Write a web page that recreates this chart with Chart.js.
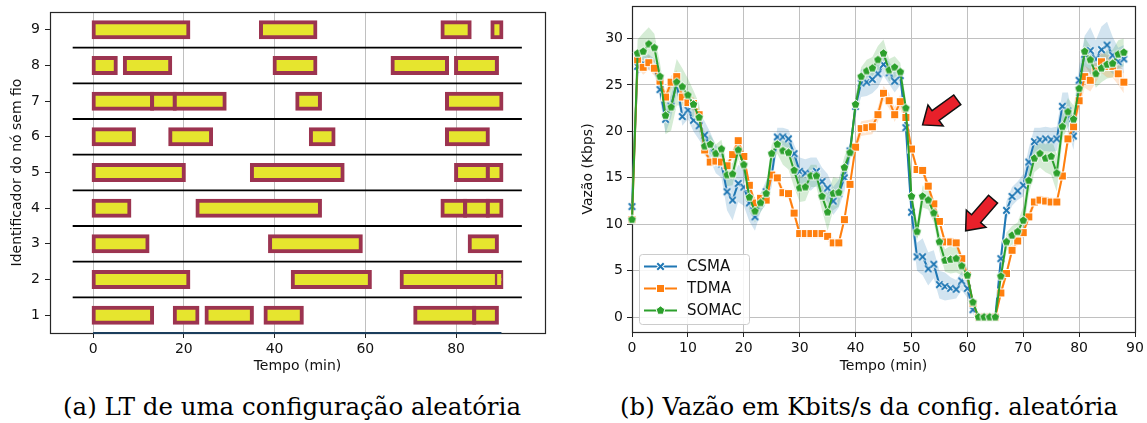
<!DOCTYPE html>
<html>
<head>
<meta charset="utf-8">
<script src="https://cdn.jsdelivr.net/npm/chart.js@4/dist/chart.umd.min.js"></script>
<style>
  body { margin: 0; background: #fff; width: 1147px; height: 423px; position: relative; overflow: hidden; }
  canvas { position: absolute; top: 0; }
  #ltChart { left: 0; }
  #rateChart { left: 560px; }
  .caption { position: absolute; top: 395px; line-height: 24px; font-family: 'DejaVu Serif', serif; font-size: 21px; color: #000; white-space: nowrap; }
</style>
</head>
<body>
<canvas id="ltChart" width="560" height="380"></canvas>
<canvas id="rateChart" width="587" height="380"></canvas>
<div class="caption" id="capA">(a) LT de uma configuração aleatória</div>
<div class="caption" id="capB">(b) Vazão em Kbits/s da config. aleatória</div>
<script>
// ---- (a) link timeline per wireless node, [start, end] in minutes ----
const nodeIds = [1, 2, 3, 4, 5, 6, 7, 8, 9];
const nodeIntervals = [
  [[0, 13], [18, 23], [25, 35], [38, 46], [71, 84], [84, 89]],
  [[0, 21], [44, 61], [68, 89], [89, 90]],
  [[0, 12], [39, 59], [83, 89]],
  [[0, 8], [23, 50], [77, 82], [82, 87], [87, 90]],
  [[0, 20], [35, 55], [80, 87], [87, 90]],
  [[0, 9], [17, 26], [48, 53], [78, 87]],
  [[0, 13], [13, 18], [18, 29], [45, 50], [78, 90]],
  [[0, 5], [7, 17], [40, 49], [66, 78], [80, 89]],
  [[0, 21], [37, 49], [77, 83], [88, 90]]
];
const laneSeparators = [1.5, 2.5, 3.5, 4.5, 5.5, 6.5, 7.5, 8.5];
const separatorSpan = [-4.5, 94.5];
const baseTraceX = [0, 90];
const ltTicksX = [0, 20, 40, 60, 80];
const ltTicksY = [1, 2, 3, 4, 5, 6, 7, 8, 9];

// ---- (b) throughput (Kbps) per minute ----
const minutes = [0, 1, 2, 3, 4, 5, 6, 7, 8, 9, 10, 11, 12, 13, 14, 15, 16, 17, 18, 19,
  20, 21, 22, 23, 24, 25, 26, 27, 28, 29, 30, 31, 32, 33, 34, 35, 36, 37, 38, 39,
  40, 41, 42, 43, 44, 45, 46, 47, 48, 49, 50, 51, 52, 53, 54, 55, 56, 57, 58, 59,
  60, 61, 62, 63, 64, 65, 66, 67, 68, 69, 70, 71, 72, 73, 74, 75, 76, 77, 78, 79,
  80, 81, 82, 83, 84, 85, 86, 87, 88];
const csma = [11.9, 27.0, 27.3, 27.5, 27.0, 24.5, 21.3, 22.7, 25.2, 21.6,
  22.3, 21.2, 20.6, 19.6, 18.4, 17.0, 16.5, 13.5, 12.6, 14.4,
  14.0, 12.3, 10.8, 12.3, 13.5, 15.3, 19.4, 19.4, 19.2, 17.6,
  15.7, 15.5, 15.4, 15.7, 14.6, 13.9, 12.5, 13.3, 15.0, 17.9,
  22.7, 25.2, 25.3, 25.6, 26.2, 27.2, 26.3, 25.4, 26.0, 20.4,
  11.3, 6.5, 6.5, 5.2, 5.7, 3.5, 3.3, 3.1, 3.0, 3.9,
  3.1, 0.8, 0, 0, 0, 0, 6.3, 11.5, 13.0, 13.6,
  14.2, 16.7, 18.9, 19.1, 19.2, 19.1, 19.2, 22.7, 22.2, 19.5,
  25.5, 28.3, 28.7, 27.8, 28.8, 29.3, 28.2, 27.5, 27.8];
const tdma = [10.5, 27.7, 26.9, 27.4, 26.8, 25.4, 23.7, 25.3, 25.9, 23.7,
  23.1, 23.0, 21.8, 18.0, 16.7, 16.8, 16.7, 16.3, 17.5, 19.0,
  17.3, 14.2, 12.3, 12.8, 12.6, 15.3, 15.0, 13.4, 13.3, 11.2,
  9.0, 9.0, 9.0, 9.0, 9.0, 8.7, 8.0, 8.0, 10.5, 14.3,
  18.3, 20.3, 20.4, 20.5, 21.8, 24.1, 23.3, 21.8, 23.2, 21.5,
  18.1, 15.9, 15.8, 14.1, 12.2, 10.3, 8.1, 8.1, 8.0, 6.3,
  4.5, 1.5, 0, 0, 0, 0, 2.6, 4.7, 7.2, 8.2,
  9.1, 10.8, 12.4, 12.6, 12.5, 12.4, 12.4, 15.2, 19.2, 20.5,
  23.3, 25.9, 25.5, 26.5, 27.5, 27.0, 27.0, 26.2, 25.3];
const somac = [10.5, 28.4, 28.6, 29.4, 29.0, 25.9, 21.7, 22.6, 25.3, 24.8,
  23.9, 22.9, 21.5, 18.4, 18.6, 17.6, 18.1, 15.3, 15.4, 18.0,
  16.4, 12.9, 11.4, 12.3, 13.3, 17.6, 18.6, 17.9, 17.7, 15.8,
  13.9, 14.0, 15.2, 15.2, 13.0, 11.3, 13.3, 13.4, 16.1, 17.7,
  22.9, 25.9, 26.5, 26.8, 27.7, 28.4, 26.6, 26.9, 26.4, 22.5,
  13.0, 9.2, 13.0, 12.6, 11.2, 8.1, 6.1, 6.2, 6.3, 5.5,
  4.5, 1.6, 0, 0, 0, 0, 4.4, 8.1, 8.8, 9.2,
  10.4, 14.7, 17.1, 17.6, 17.1, 17.3, 15.5, 20.5, 22.1, 21.3,
  24.6, 28.6, 27.7, 26.2, 26.8, 27.2, 27.3, 28.3, 28.5];
// half width of the shaded confidence band
const csmaCi = [0.3, 0.8, 0.8, 0.8, 0.8, 1.0, 1.5, 1.2, 1.0, 1.0,
  1.0, 1.2, 1.5, 1.5, 1.5, 1.5, 1.5, 2.0, 2.2, 2.0,
  2.0, 2.0, 1.5, 1.0, 1.2, 1.3, 1.0, 1.0, 1.0, 1.0,
  1.5, 1.5, 1.8, 1.5, 1.5, 1.5, 1.5, 1.5, 1.5, 1.0,
  1.0, 1.5, 1.5, 1.5, 1.5, 1.2, 1.2, 1.2, 1.0, 1.0,
  1.5, 1.5, 2.0, 1.8, 1.5, 1.5, 1.5, 1.2, 1.0, 1.0,
  1.0, 0.5, 0, 0, 0, 0, 1.0, 1.0, 1.0, 1.0,
  1.2, 1.5, 1.5, 1.3, 1.3, 1.3, 1.3, 1.5, 2.0, 1.5,
  1.5, 2.0, 2.5, 2.0, 2.5, 2.5, 2.0, 1.5, 1.5];
const tdmaCi = [0.3, 0.8, 0.8, 0.8, 0.8, 0.7, 0.7, 0.7, 0.7, 0.7,
  0.7, 0.7, 0.7, 0.5, 0.5, 0.5, 0.5, 0.5, 0.5, 0.5,
  0.5, 0.5, 0.5, 0.5, 0.5, 0.5, 0.5, 0.5, 0.5, 0.5,
  0.5, 0.5, 0.5, 0.5, 0.5, 0.5, 0.5, 0.5, 0.5, 0.5,
  0.8, 0.8, 0.8, 0.8, 0.8, 0.8, 0.8, 0.8, 0.8, 0.6,
  0.5, 0.5, 0.5, 0.5, 0.5, 0.5, 0.5, 0.5, 0.5, 0.5,
  0.5, 0.3, 0, 0, 0, 0, 0.5, 0.5, 0.5, 0.5,
  0.5, 0.5, 0.5, 0.5, 0.5, 0.5, 0.5, 0.5, 0.8, 0.8,
  1.0, 1.2, 1.2, 1.2, 1.2, 1.2, 1.2, 1.2, 1.2];
const somacCi = [0.3, 1.5, 2.0, 1.8, 1.5, 1.5, 2.0, 2.5, 2.5, 2.0,
  1.8, 1.5, 1.5, 1.0, 1.0, 1.0, 1.0, 1.2, 1.2, 1.0,
  1.0, 1.5, 1.2, 1.0, 1.0, 1.0, 1.0, 1.5, 1.8, 1.8,
  1.5, 1.5, 1.2, 1.2, 1.5, 2.0, 1.8, 1.5, 1.2, 1.0,
  1.0, 1.0, 1.2, 1.2, 1.5, 1.5, 1.2, 1.2, 1.0, 1.0,
  1.0, 1.0, 1.2, 1.0, 1.0, 1.0, 1.2, 1.5, 1.5, 1.0,
  0.8, 0.5, 0, 0, 0, 0, 0.8, 1.0, 1.0, 1.0,
  1.5, 1.5, 1.5, 1.5, 1.5, 2.0, 2.0, 1.5, 1.5, 1.5,
  1.5, 1.5, 1.5, 1.5, 1.5, 1.5, 1.5, 1.5, 1.5];
const rateTicksX = [0, 10, 20, 30, 40, 50, 60, 70, 80, 90];
const rateTicksY = [0, 5, 10, 15, 20, 25, 30];
const seriesNames = ['CSMA', 'TDMA', 'SOMAC'];
// red arrows: tail and tip in (minute, Kbps)
const arrowTails = [[58.2, 23.4], [64.6, 12.7]];
const arrowTips = [[52.0, 20.7], [59.7, 9.3]];

Chart.defaults.font.family = "'DejaVu Sans', sans-serif";
Chart.defaults.font.size = 14;
Chart.defaults.color = '#111';

const seriesColors = ['#1f77b4', '#ff7f0e', '#2ca02c'];
const bandColors = ['rgba(31,119,180,0.2)', 'rgba(255,127,14,0.2)', 'rgba(44,160,44,0.2)'];

function makeMarker(kind, color) {
  const c = document.createElement('canvas');
  c.width = 11; c.height = 11;
  const g = c.getContext('2d');
  g.translate(5.5, 5.5);
  if (kind === 'x') {
    [['#fff', 4], [color, 2]].forEach(([col, lw]) => {
      g.strokeStyle = col; g.lineWidth = lw;
      g.beginPath();
      g.moveTo(-3.2, -3.2); g.lineTo(3.2, 3.2);
      g.moveTo(3.2, -3.2); g.lineTo(-3.2, 3.2);
      g.stroke();
    });
  } else if (kind === 'square') {
    g.fillStyle = color; g.strokeStyle = '#fff'; g.lineWidth = 1;
    g.fillRect(-4, -4, 8, 8); g.strokeRect(-4, -4, 8, 8);
  } else {
    g.beginPath();
    for (let k = 0; k < 5; k++) {
      const a = -Math.PI / 2 + k * 2 * Math.PI / 5;
      g.lineTo(4.6 * Math.cos(a), 4.6 * Math.sin(a));
    }
    g.closePath();
    g.fillStyle = color; g.fill();
    g.strokeStyle = '#fff'; g.lineWidth = 1; g.stroke();
  }
  return c;
}
const markers = [makeMarker('x', seriesColors[0]), makeMarker('square', seriesColors[1]), makeMarker('pentagon', seriesColors[2])];

const frame = {
  id: 'frame',
  beforeDatasetsDraw(chart) {
    const {ctx, chartArea: a} = chart;
    ctx.save();
    ctx.strokeStyle = '#262626';
    ctx.lineWidth = 1.2;
    ctx.strokeRect(a.left + 0.5, a.top + 0.5, a.right - a.left, a.bottom - a.top);
    ctx.restore();
  }
};

// ---------- chart (a) ----------
const barData = [];
nodeIntervals.forEach((list, i) => {
  list.forEach(iv => barData.push({x: iv, y: nodeIds[i]}));
});
const ltDatasets = [{
  type: 'bar',
  indexAxis: 'y',
  data: barData,
  backgroundColor: '#e6e52e',
  borderColor: '#9c3450',
  borderWidth: 4,
  borderSkipped: false,
  inflateAmount: 2,
  barThickness: 15,
  grouped: false
}];
laneSeparators.forEach(v => {
  ltDatasets.push({
    type: 'line',
    data: separatorSpan.map(x => ({x, y: v})),
    borderColor: '#000', borderWidth: 1.8, pointRadius: 0, fill: false
  });
});
ltDatasets.push({
  type: 'line',
  data: baseTraceX.map(x => ({x, y: 0.5})),
  borderColor: '#1b3d5c', borderWidth: 2, pointRadius: 0, fill: false, clip: false
});

new Chart(document.getElementById('ltChart'), {
  type: 'bar',
  data: {datasets: ltDatasets},
  options: {
    responsive: false,
    animation: false,
    events: [],
    devicePixelRatio: 1,
    layout: {padding: {left: 0, right: 15, top: 12, bottom: 0}},
    plugins: {legend: {display: false}, tooltip: {enabled: false}},
    scales: {
      x: {
        type: 'linear', min: -9.5, max: 99.6, offset: false, beginAtZero: false,
        afterBuildTicks: s => { s.ticks = ltTicksX.map(v => ({value: v})); },
        afterFit: s => { s.height = 47; s.paddingLeft = 0; s.paddingRight = 0; },
        grid: {offset: false, color: '#c0c0c0', lineWidth: 1, tickLength: 5, tickColor: '#222'},
        border: {display: false},
        ticks: {padding: 3, color: '#111'},
        title: {display: true, text: 'Tempo (min)', padding: {top: 0, bottom: 5}}
      },
      y: {
        type: 'linear', min: 0.5, max: 9.5, offset: false, beginAtZero: false,
        afterBuildTicks: s => { s.ticks = ltTicksY.map(v => ({value: v})); },
        afterFit: s => { s.width = 50; s.paddingTop = 0; s.paddingBottom = 0; },
        grid: {offset: false, drawOnChartArea: false, tickLength: 5, tickColor: '#222'},
        border: {display: false},
        ticks: {padding: 5, color: '#111'},
        title: {display: true, text: 'Identificador do nó sem fio', padding: {top: 9, bottom: 0}}
      }
    }
  },
  plugins: [frame]
});

// ---------- chart (b) ----------
const rateValues = [csma, tdma, somac];
const rateCi = [csmaCi, tdmaCi, somacCi];
const rateDatasets = [];
rateValues.forEach((vals, i) => {
  rateDatasets.push({
    data: minutes.map((m, k) => ({x: m, y: vals[k] - rateCi[i][k]})),
    borderWidth: 0, pointRadius: 0, fill: false, order: 10
  });
  rateDatasets.push({
    data: minutes.map((m, k) => ({x: m, y: vals[k] + rateCi[i][k]})),
    borderWidth: 0, pointRadius: 0, fill: '-1', backgroundColor: bandColors[i], order: 10
  });
});
rateValues.forEach((vals, i) => {
  rateDatasets.push({
    label: seriesNames[i],
    data: minutes.map((m, k) => ({x: m, y: vals[k]})),
    borderColor: seriesColors[i],
    borderWidth: 2,
    pointStyle: markers[i],
    pointRadius: 4,
    tension: 0,
    fill: false,
    clip: false,
    order: 3 - i
  });
});

const legendBox = {
  id: 'legendBox',
  afterDraw(chart) {
    const {ctx, chartArea: a} = chart;
    const x0 = a.left + 7, y0 = a.bottom - 78, w = 110, h = 70;
    ctx.save();
    ctx.fillStyle = 'rgba(255,255,255,0.85)';
    ctx.strokeStyle = '#cccccc';
    ctx.lineWidth = 1;
    ctx.beginPath();
    ctx.roundRect(x0 + 0.5, y0 + 0.5, w, h, 3);
    ctx.fill(); ctx.stroke();
    ctx.font = "15px 'DejaVu Sans'";
    ctx.textBaseline = 'middle';
    seriesNames.forEach((name, i) => {
      const cy = y0 + 12.5 + i * 22;
      ctx.strokeStyle = seriesColors[i];
      ctx.lineWidth = 2;
      ctx.beginPath(); ctx.moveTo(x0 + 5, cy); ctx.lineTo(x0 + 38, cy); ctx.stroke();
      const m = markers[i];
      ctx.drawImage(m, x0 + 21.5 - m.width / 2, cy - m.height / 2);
      ctx.fillStyle = '#111';
      ctx.fillText(name, x0 + 48, cy + 1);
    });
    ctx.restore();
  }
};

const arrowNotes = {
  id: 'arrowNotes',
  afterDatasetsDraw(chart) {
    const {ctx, scales: {x, y}} = chart;
    arrowTails.forEach((tail, i) => {
      const tip = arrowTips[i];
      const x1 = x.getPixelForValue(tail[0]), y1 = y.getPixelForValue(tail[1]);
      const x2 = x.getPixelForValue(tip[0]), y2 = y.getPixelForValue(tip[1]);
      const len = Math.hypot(x2 - x1, y2 - y1);
      const hl = 16, hw = 13, sw = 6;
      ctx.save();
      ctx.translate(x1, y1);
      ctx.rotate(Math.atan2(y2 - y1, x2 - x1));
      ctx.beginPath();
      ctx.moveTo(0, -sw); ctx.lineTo(len - hl, -sw); ctx.lineTo(len - hl, -hw);
      ctx.lineTo(len, 0);
      ctx.lineTo(len - hl, hw); ctx.lineTo(len - hl, sw); ctx.lineTo(0, sw);
      ctx.closePath();
      ctx.fillStyle = '#e8202a'; ctx.fill();
      ctx.strokeStyle = '#111'; ctx.lineWidth = 1.5; ctx.stroke();
      ctx.restore();
    });
  }
};

new Chart(document.getElementById('rateChart'), {
  type: 'line',
  data: {datasets: rateDatasets},
  options: {
    responsive: false,
    animation: false,
    events: [],
    devicePixelRatio: 1,
    layout: {padding: {left: 0, right: 12, top: 6, bottom: 0}},
    plugins: {legend: {display: false}, tooltip: {enabled: false}},
    scales: {
      x: {
        type: 'linear', min: 0, max: 90,
        afterBuildTicks: s => { s.ticks = rateTicksX.map(v => ({value: v})); },
        afterFit: s => { s.height = 48; s.paddingLeft = 0; s.paddingRight = 0; },
        grid: {color: '#c0c0c0', lineWidth: 1, tickLength: 5, tickColor: '#222'},
        border: {display: false},
        ticks: {padding: 3, color: '#111'},
        title: {display: true, text: 'Tempo (min)', padding: {top: 0, bottom: 5}}
      },
      y: {
        type: 'linear', min: -1.6, max: 33.5,
        afterBuildTicks: s => { s.ticks = rateTicksY.map(v => ({value: v})); },
        afterFit: s => { s.width = 72; s.paddingTop = 0; s.paddingBottom = 0; },
        grid: {color: '#c0c0c0', lineWidth: 1, tickLength: 5, tickColor: '#222'},
        border: {display: false},
        ticks: {padding: 4, color: '#111'},
        title: {display: true, text: 'Vazão (Kbps)', padding: {top: 20, bottom: 0}}
      }
    }
  },
  plugins: [frame, arrowNotes, legendBox]
});

// captions: fit the serif text to the reference width, centred under each panel
function placeCaption(id, centerX, targetWidth) {
  const el = document.getElementById(id);
  const w0 = el.getBoundingClientRect().width;
  const size = parseFloat(getComputedStyle(el).fontSize);
  el.style.fontSize = (size * targetWidth / w0).toFixed(2) + 'px';
  const w1 = el.getBoundingClientRect().width;
  el.style.left = (centerX - w1 / 2) + 'px';
}
placeCaption('capA', 292, 458);
placeCaption('capB', 869, 498);
</script>
</body>
</html>
